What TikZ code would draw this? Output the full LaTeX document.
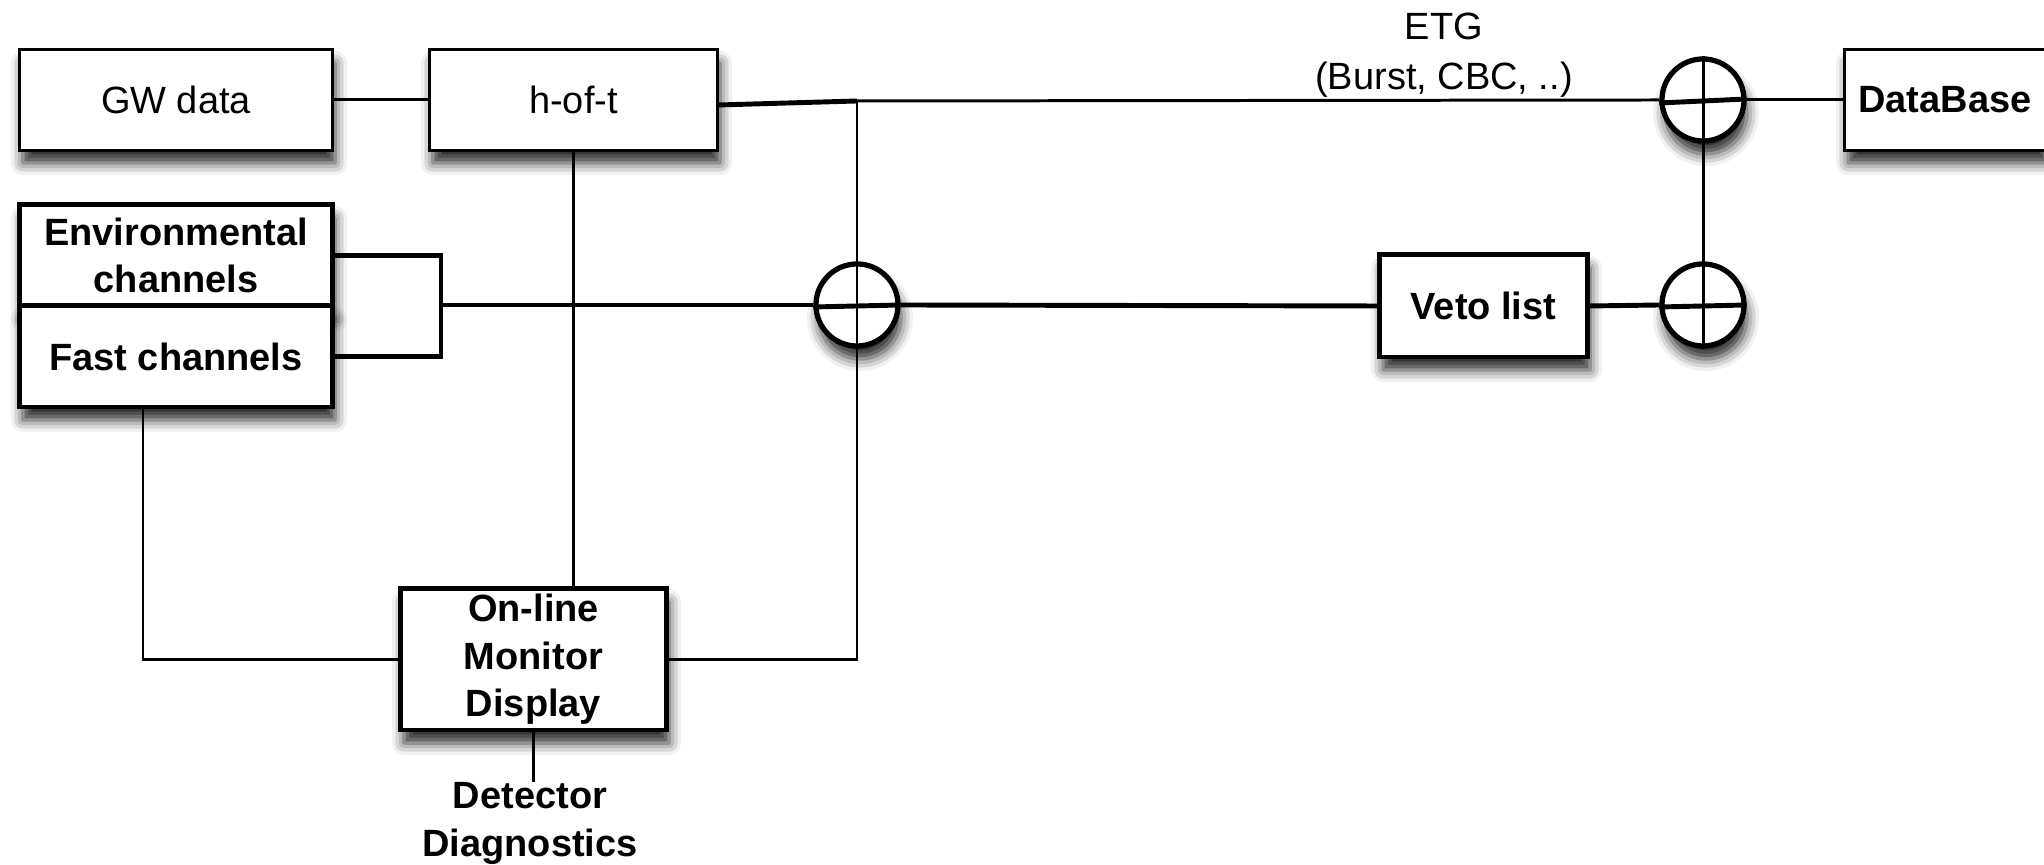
\documentclass[tikz,border=0pt]{standalone}
\usepackage{fontspec}
\setmainfont{Liberation Sans}
\usetikzlibrary{shadows.blur}
\begin{document}
\begin{tikzpicture}[x=0.01cm,y=-0.01cm,
  font=\fontsize{10.8}{13.5}\selectfont,
  shad/.style={blur shadow={shadow xshift=0.3mm, shadow yshift=-1.3mm, shadow blur radius=1.2mm, shadow opacity=85}},
  thinbox/.style={draw, line width=0.85pt, fill=white, inner sep=0pt, align=center, shad},
  boldbox/.style={draw, line width=1.4pt, fill=white, inner sep=0pt, align=center, font=\fontsize{10.8}{13.5}\selectfont\bfseries, shad},
  sumnode/.style={draw, circle, line width=1.5pt, fill=white, minimum size=0.82cm, inner sep=0pt, shad},
  thinline/.style={line width=0.85pt},
  thickline/.style={line width=1.4pt},
  lbl/.style={align=center, inner sep=0pt}
]
\useasboundingbox (0,0) rectangle (2044,865);

% boxes
\node[thinbox, minimum width=3.12cm, minimum height=1.0cm] (gw) at (176,100) {GW data};
\node[thinbox, minimum width=2.87cm, minimum height=1.0cm] (hoft) at (573.5,100) {h-of-t};
\node[boldbox, minimum width=3.12cm, minimum height=1.01cm] (env) at (176,255.5) {Environmental\\channels};
\node[boldbox, minimum width=3.12cm, minimum height=1.01cm] (fast) at (176,356.5) {Fast channels};
\node[boldbox, minimum width=2.07cm, minimum height=1.02cm] (veto) at (1483.5,306) {Veto list};
\node[thinbox, minimum width=2.0cm, minimum height=1.0cm, font=\fontsize{10.8}{13.5}\selectfont\bfseries] (db) at (1945,100) {DataBase};
\node[boldbox, minimum width=2.65cm, minimum height=1.41cm] (mon) at (533.5,659.5) {On-line\\Monitor\\Display};
\node[lbl, font=\fontsize{10.8}{13.5}\selectfont\bfseries, anchor=north] (diag) at (530,782) {Detector\\Diagnostics};
\node[lbl, font=\fontsize{10.8}{14.2}\selectfont] (etg) at (1444,55) {ETG\\(Burst, CBC, ..)};

% summing junctions
\node[sumnode] (c1) at (857,305) {};
\node[sumnode] (c2) at (1703,305) {};
\node[sumnode] (c3) at (1703,100) {};

\coordinate (j1) at (857,101);
\coordinate (br) at (441,0);
\coordinate (fl) at (143,0);

% connectors
\draw[thinline] (gw.east) -- (hoft.west);
\draw[thickline] ([yshift=-0.05cm]hoft.east) -- (j1);
\draw[thinline] (j1) -- (c3.west);
\draw[thinline] (j1) -- (c1.north);
\draw[thinline] (c1.south) |- (mon.east);
\draw[thinline] (hoft.south) -- (hoft.south |- mon.north);
\draw[thinline] (fl |- fast.south) |- (mon.west);
\draw[thickline] (env.east) -| (br |- fast.east) -- (fast.east);
\draw[thickline] (br |- c1) -- (c1.west);
\draw[thickline] (c1.east) -- (veto.west);
\draw[thickline] (veto.east) -- (c2.west);
\draw[thinline] (c2.north) -- (c3.south);
\draw[thinline] (c3.east) -- (db.west);
\draw[thinline] (mon.south) -- (mon.south |- diag.north);

% crosses inside junctions
\draw[thickline] ([yshift=-0.02cm]c1.west) -- (c1.east);
\draw[thinline] (c1.north) -- (c1.south);
\draw[thickline] ([yshift=-0.02cm]c2.west) -- (c2.east);
\draw[thinline] (c2.north) -- (c2.south);
\draw[thickline] ([yshift=-0.03cm]c3.west) -- ([yshift=0.01cm]c3.east);
\draw[thinline] (c3.north) -- (c3.south);
\end{tikzpicture}
\end{document}
